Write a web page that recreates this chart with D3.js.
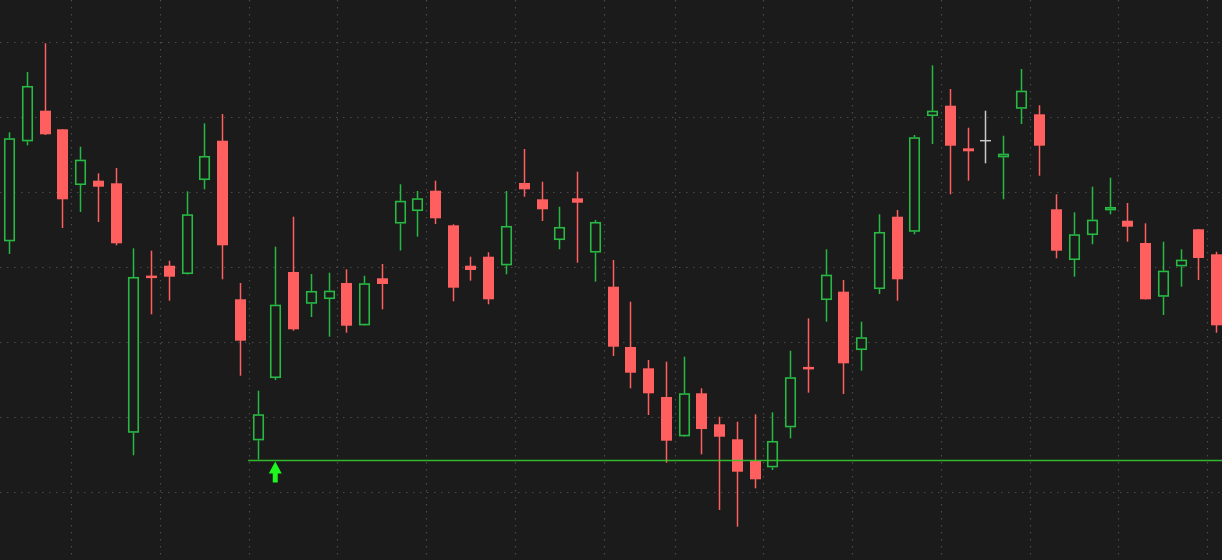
<!DOCTYPE html>
<html>
<head>
<meta charset="utf-8">
<script src="https://cdn.jsdelivr.net/npm/d3@7/dist/d3.min.js"></script>
<style>
  html, body { margin: 0; padding: 0; background: #1b1b1b; overflow: hidden; }
  svg { display: block; }
</style>
</head>
<body>
<svg id="chart" width="1222" height="560"></svg>
<script>
// ---- data ----
const opens  = [125.02,135.02,138.08,136.22,130.65,131.08,130.82,105.88,121.58,122.58,121.75,131.15,135.08,119.22,105.12,111.35,121.95,118.78,119.25,120.85,116.62,121.32,126.80,128.05,130.08,126.62,122.58,123.48,122.62,130.85,129.22,125.15,129.32,123.90,120.48,114.45,112.32,109.45,105.52,109.82,106.72,105.22,103.08,102.42,106.42,112.45,119.15,119.98,114.15,120.25,127.48,125.98,137.55,138.58,134.32,135.08,133.42,138.28,137.72,128.22,123.15,125.65,128.12,127.08,124.85,119.48,122.52,126.22,123.72];
const highs  = [135.92,141.95,144.82,136.25,134.48,131.82,132.35,124.32,124.08,123.08,130.02,136.82,137.75,120.85,110.08,124.48,127.48,121.75,121.88,122.22,121.58,122.75,130.72,130.05,131.08,126.72,123.48,123.92,130.05,134.25,130.98,128.48,131.98,127.15,123.15,118.98,113.15,112.98,113.48,110.32,107.48,106.98,107.72,107.92,114.08,117.32,124.22,121.15,116.98,127.72,128.15,135.65,142.62,140.25,136.38,138.08,135.58,142.25,138.62,129.72,127.92,130.48,131.38,128.85,126.82,124.98,124.22,126.25,123.98];
const lows   = [123.75,134.62,135.65,126.35,127.95,126.95,124.62,103.62,117.72,119.08,121.70,130.22,121.22,111.58,103.20,111.15,116.08,117.45,115.48,115.88,116.57,118.22,124.10,125.48,126.75,119.02,121.08,118.72,121.72,129.48,127.05,124.22,122.88,120.98,113.55,110.32,107.65,102.88,105.47,103.72,98.15,96.48,100.32,102.15,105.32,109.88,116.98,109.75,112.08,119.75,119.08,125.72,134.75,129.72,131.08,132.82,129.22,136.75,131.58,123.32,121.48,124.72,127.72,124.98,119.20,117.65,120.48,121.15,115.88];
const closes = [135.32,140.55,135.72,129.22,133.18,130.48,124.82,121.45,121.35,121.48,127.72,133.55,124.62,115.08,107.72,118.68,116.22,120.05,120.08,116.58,120.82,120.75,129.07,129.32,127.32,120.38,122.15,119.22,126.55,130.22,128.22,126.45,128.88,126.95,114.48,111.88,109.82,105.08,109.82,106.25,105.48,101.98,101.22,105.05,111.42,112.22,121.68,112.82,115.42,125.95,121.22,135.42,138.08,134.58,134.02,135.08,133.78,140.08,134.58,124.08,125.72,127.18,128.45,126.48,119.22,122.08,123.18,123.35,116.62];

// price grid levels and first-candle-of-week indices (vertical grid sits between weeks)
const priceTicks = [145, 137.5, 130, 122.5, 115, 107.5, 100];
const weekStarts = [4, 9, 14, 19, 24, 29, 34, 38, 43, 48, 53, 58, 63, 68];

// support level and the bar where it was set / signal bar
const supportLevel = 103.2;
const supportStart = 14;
const signalBar = 15;

// ---- chart ----
const W = 1222, H = 560;
const svg = d3.select("#chart");

const n = opens.length;
const candles = d3.range(n).map(i => ({ i, o: opens[i], h: highs[i], l: lows[i], c: closes[i] }));

const x = d3.scaleLinear().domain([0, n - 1]).range([9, 1216]);
const y = d3.scaleLinear().domain([149.15, 93.15]).range([0, H]);

const UP = "#27b944", DOWN = "#ff5f5f", FLAT = "#c9c9c9";
const bodyW = 11;

svg.append("rect").attr("width", W).attr("height", H).attr("fill", "#1b1b1b");

// grid
const grid = svg.append("g").attr("stroke", "#4b4b4b").attr("stroke-width", 1.2)
  .attr("stroke-dasharray", "1.5,5.5");
grid.selectAll("line.h").data(priceTicks).join("line")
  .attr("class", "h")
  .attr("x1", 0).attr("x2", W)
  .attr("y1", d => Math.round(y(d)) + 0.5).attr("y2", d => Math.round(y(d)) + 0.5);
grid.selectAll("line.v").data(weekStarts).join("line")
  .attr("class", "v")
  .attr("y1", 0).attr("y2", H)
  .attr("x1", d => Math.round(x(d - 0.5)) + 0.5).attr("x2", d => Math.round(x(d - 0.5)) + 0.5);

// candles
const g = svg.append("g");
candles.forEach(d => {
  const cx = Math.round(x(d.i)) + 0.5;
  const yH = y(d.h), yL = y(d.l), yO = y(d.o), yC = y(d.c);
  const top = Math.min(yO, yC), bot = Math.max(yO, yC);
  if (d.c > d.o) {
    // hollow up candle
    g.append("line").attr("x1", cx).attr("x2", cx).attr("y1", yH).attr("y2", top)
      .attr("stroke", UP).attr("stroke-width", 1.5);
    g.append("line").attr("x1", cx).attr("x2", cx).attr("y1", bot).attr("y2", yL)
      .attr("stroke", UP).attr("stroke-width", 1.5);
    g.append("rect")
      .attr("x", cx - bodyW / 2 + 0.75).attr("y", top + 0.75)
      .attr("width", bodyW - 1.5).attr("height", Math.max(bot - top - 1.5, 1.5))
      .attr("fill", "#1b1b1b").attr("stroke", UP).attr("stroke-width", 1.6);
  } else if (d.c < d.o) {
    g.append("line").attr("x1", cx).attr("x2", cx).attr("y1", yH).attr("y2", yL)
      .attr("stroke", DOWN).attr("stroke-width", 1.5);
    const hgt = Math.max(bot - top, 2.5);
    g.append("rect")
      .attr("x", cx - bodyW / 2).attr("y", (top + bot) / 2 - hgt / 2)
      .attr("width", bodyW).attr("height", hgt)
      .attr("fill", DOWN);
  } else {
    g.append("line").attr("x1", cx).attr("x2", cx).attr("y1", yH).attr("y2", yL)
      .attr("stroke", FLAT).attr("stroke-width", 1.5);
    g.append("line").attr("x1", cx - bodyW / 2).attr("x2", cx + bodyW / 2)
      .attr("y1", yO).attr("y2", yO)
      .attr("stroke", FLAT).attr("stroke-width", 1.5);
  }
});

// support line
const ys = Math.round(y(supportLevel)) + 0.5;
svg.append("line")
  .attr("x1", x(supportStart - 0.5) - 0.5).attr("x2", W)
  .attr("y1", ys).attr("y2", ys)
  .attr("stroke", "#35c62f").attr("stroke-width", 1.6).attr("opacity", 0.92);

// signal arrow under the signal bar
const ax = x(signalBar);
const arrow = d3.path();
arrow.moveTo(ax, ys + 1);
arrow.lineTo(ax + 6.5, ys + 13);
arrow.lineTo(ax + 2.5, ys + 13);
arrow.lineTo(ax + 2.5, ys + 22);
arrow.lineTo(ax - 2.5, ys + 22);
arrow.lineTo(ax - 2.5, ys + 13);
arrow.lineTo(ax - 6.5, ys + 13);
arrow.closePath();
svg.append("path").attr("d", arrow.toString()).attr("fill", "#1ff51f");
</script>
</body>
</html>
